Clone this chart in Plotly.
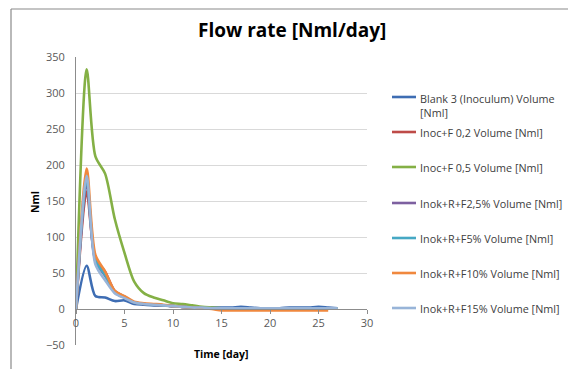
import plotly.graph_objects as go

# ---------------- data ----------------
time = [0, 1.1, 2, 3, 4, 5, 6, 7, 8, 9, 10, 11, 12, 13, 14, 15, 16, 17, 18, 19, 20, 21, 22, 23, 24, 25, 26, 27]

series_names = [
    "Blank 3 (Inoculum) Volume [Nml]",
    "Inoc+F 0,2 Volume [Nml]",
    "Inoc+F 0,5 Volume [Nml]",
    "Inok+R+F2,5% Volume [Nml]",
    "Inok+R+F5% Volume [Nml]",
    "Inok+R+F10% Volume [Nml]",
    "Inok+R+F15% Volume [Nml]",
]
legend_labels = [
    "Blank 3 (Inoculum) Volume<br>[Nml]",
    "Inoc+F 0,2 Volume [Nml]",
    "Inoc+F 0,5 Volume [Nml]",
    "Inok+R+F2,5% Volume [Nml]",
    "Inok+R+F5% Volume [Nml]",
    "Inok+R+F10% Volume [Nml]",
    "Inok+R+F15% Volume [Nml]",
]

blank3 = [0, 60, 18, 16, 11, 12, 7, 6, 5, 5, 4, 3, 3, 2, 2, 2, 2, 3, 2, 1, 1, 1, 2, 2, 2, 3, 2, 1]
inoc_f02 = [0, 163, 70, 52, 25, 17, 9, 7, 6, 5, 4, 3, 2, 1, 1, 0, 0, 0, 0, 0, 0, 0, 0, 0, 0, 0]
inoc_f05 = [0, 333, 212, 188, 125, 78, 38, 22, 16, 12, 8, 7, 5, 3, 2, 1, 1, 1, 1, 1, 1, 1, 1, 1, 1, 1, 1, 1]
inok_f25 = [0, 175, 66, 46, 23, 16, 9, 7, 6, 5, 4, 3, 2, 1, 1, 1, 1, 1, 1, 1, 1, 1, 1, 1, 1, 1]
inok_f5 = [0, 180, 68, 47, 24, 17, 9, 7, 6, 5, 4, 3, 2, 1, 1, 1, 1, 1, 1, 1, 1, 1, 1, 1, 1, 1]
inok_f10 = [0, 195, 75, 52, 25, 18, 10, 8, 7, 6, 4, 3, 2, 1, 0, -2, -2, -2, -2, -2, -2, -2, -2, -2, -2, -2, -2]
inok_f15 = [0, 185, 62, 40, 22, 15, 9, 7, 6, 5, 4, 3, 2, 2, 1, 1, 1, 1, 1, 1, 1, 1, 1, 1, 1, 1, 1, 1]

all_values = [blank3, inoc_f02, inoc_f05, inok_f25, inok_f5, inok_f10, inok_f15]
colors = ["#3E6DB3", "#BE4B48", "#84B045", "#7D60A0", "#46A8C4", "#F0883E", "#98B4D8"]

x_ticks = [0, 5, 10, 15, 20, 25, 30]
y_ticks = [-50, 0, 50, 100, 150, 200, 250, 300, 350]

# ---------------- layout geometry (pixels) ----------------
W, H = 568, 369
L, R, T, B = 76, 367, 57, 345  # plot area edges


def px_x(p):
    return (p - L) / (R - L)


def px_y(p):
    return (B - p) / (B - T)


FONT = "Open Sans"
TXT = "#404040"

fig = go.Figure()
for name, vals, col in zip(series_names, all_values, colors):
    fig.add_trace(go.Scatter(
        x=time[:len(vals)], y=vals, name=name, mode="lines",
        line=dict(color=col, width=2.6, shape="spline", smoothing=0.8),
        showlegend=False,
    ))

fig.update_layout(
    width=W, height=H,
    margin=dict(l=L, r=W - R, t=T, b=H - B),
    paper_bgcolor="white", plot_bgcolor="white",
    font=dict(family=FONT, color=TXT),
    xaxis=dict(
        range=[0, 30], tickvals=x_ticks, showgrid=False, zeroline=False,
        anchor="free", position=(0 - y_ticks[0]) / (y_ticks[-1] - y_ticks[0]),
        showline=True, linecolor="#8C8C8C", linewidth=1,
        ticks="outside", ticklen=4, tickcolor="#8C8C8C",
        tickfont=dict(size=11, color="#595959", family=FONT),
    ),
    yaxis=dict(
        range=[-50, 350], tickvals=y_ticks, showgrid=True, gridcolor="#D9D9D9",
        gridwidth=1, zeroline=False, showline=True, linecolor="#8C8C8C",
        linewidth=1, ticks="", ticklabelstandoff=8,
        tickfont=dict(size=11, color="#595959", family=FONT),
    ),
)

annotations = [
    dict(text="<b>Flow rate [Nml/day]</b>", x=px_x(292), y=px_y(30), xref="paper", yref="paper",
         showarrow=False, font=dict(size=19, color="#000000", family=FONT), xanchor="center", yanchor="middle"),
    dict(text="<b>Time [day]</b>", x=px_x(221), y=px_y(354), xref="paper", yref="paper",
         showarrow=False, font=dict(size=10.5, color="#000000", family=FONT), xanchor="center", yanchor="middle"),
    dict(text="<b>Nml</b>", x=px_x(35), y=px_y(202), xref="paper", yref="paper", textangle=-90,
         showarrow=False, font=dict(size=10.5, color="#000000", family=FONT), xanchor="center", yanchor="middle"),
]

shapes = [
    # chart-area border (partly visible)
    dict(type="line", xref="paper", yref="paper", x0=px_x(11), x1=px_x(600), y0=px_y(9), y1=px_y(9),
         line=dict(color="#8A8A8A", width=1.2)),
    dict(type="line", xref="paper", yref="paper", x0=px_x(11), x1=px_x(11), y0=px_y(9), y1=px_y(400),
         line=dict(color="#8A8A8A", width=1.2)),
]

legend_y = [97, 132, 167, 203, 238, 273, 308]
for lab, col, yy in zip(legend_labels, colors, legend_y):
    shapes.append(dict(type="line", xref="paper", yref="paper", x0=px_x(392), x1=px_x(416),
                       y0=px_y(yy), y1=px_y(yy), line=dict(color=col, width=2.6)))
    multi = "<br>" in lab
    annotations.append(dict(text=lab, x=px_x(418), y=px_y(yy - 8) if multi else px_y(yy),
                            xref="paper", yref="paper", showarrow=False, align="left",
                            xanchor="left", yanchor="top" if multi else "middle",
                            font=dict(size=10.8, color=TXT, family=FONT)))

fig.update_layout(annotations=annotations, shapes=shapes)
fig.write_html("out.html")
